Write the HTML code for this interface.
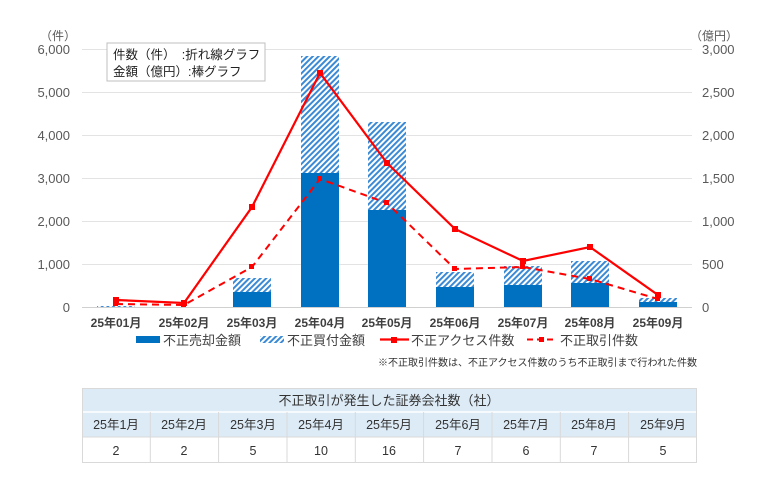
<!DOCTYPE html>
<html><head><meta charset="utf-8"><style>
body{margin:0;background:#fff;width:761px;height:498px;overflow:hidden;font-family:"Liberation Sans","Noto Sans CJK JP",sans-serif}
svg text{font-family:"Liberation Sans","Noto Sans CJK JP",sans-serif}
</style></head><body>
<svg width="761" height="498" xmlns="http://www.w3.org/2000/svg">
<defs><pattern id="h" width="4" height="4" patternUnits="userSpaceOnUse" patternTransform="rotate(45)"><rect width="4" height="4" fill="#fff"/><rect width="2" height="4" fill="#3a8ad6"/></pattern></defs>
<g stroke="#e3e3e3" stroke-width="1">
<line x1="82" x2="692" y1="49.5" y2="49.5"/><line x1="82" x2="692" y1="92.5" y2="92.5"/><line x1="82" x2="692" y1="135.5" y2="135.5"/><line x1="82" x2="692" y1="178.5" y2="178.5"/><line x1="82" x2="692" y1="221.5" y2="221.5"/><line x1="82" x2="692" y1="264.5" y2="264.5"/>
</g>
<line x1="82" x2="692" y1="307.5" y2="307.5" stroke="#d0d0d0"/>
<g font-size="13" fill="#595959" text-anchor="end">
<text x="70" y="54">6,000</text><text x="70" y="97">5,000</text><text x="70" y="140">4,000</text><text x="70" y="183">3,000</text><text x="70" y="226">2,000</text><text x="70" y="269">1,000</text><text x="70" y="312">0</text>
</g>
<g font-size="13" fill="#595959" text-anchor="start">
<text x="702" y="54">3,000</text><text x="702" y="97">2,500</text><text x="702" y="140">2,000</text><text x="702" y="183">1,500</text><text x="702" y="226">1,000</text><text x="702" y="269">500</text><text x="702" y="312">0</text>
</g>
<text x="40" y="40" font-size="12" fill="#595959">（件）</text>
<text x="690" y="40" font-size="12" fill="#595959">（億円）</text>
<rect x="107" y="43" width="158" height="38" fill="#fff" stroke="#bfbfbf"/>
<text x="113" y="59" font-size="12.5" fill="#222">件数（件）　:折れ線グラフ</text>
<text x="113" y="76" font-size="12.5" fill="#222">金額（億円）:棒グラフ</text>
<g>
<rect x="97" y="306" width="38" height="1" fill="url(#h)"/>
<rect x="233" y="278" width="38" height="14" fill="url(#h)"/><rect x="233" y="292" width="38" height="15" fill="#0070c0"/>
<rect x="301" y="56" width="38" height="117" fill="url(#h)"/><rect x="301" y="173" width="38" height="134" fill="#0070c0"/>
<rect x="368" y="122" width="38" height="88" fill="url(#h)"/><rect x="368" y="210" width="38" height="97" fill="#0070c0"/>
<rect x="436" y="272" width="38" height="15" fill="url(#h)"/><rect x="436" y="287" width="38" height="20" fill="#0070c0"/>
<rect x="504" y="266" width="38" height="19" fill="url(#h)"/><rect x="504" y="285" width="38" height="22" fill="#0070c0"/>
<rect x="571" y="261" width="38" height="22" fill="url(#h)"/><rect x="571" y="283" width="38" height="24" fill="#0070c0"/>
<rect x="639" y="298" width="38" height="4" fill="url(#h)"/><rect x="639" y="302" width="38" height="5" fill="#0070c0"/>
</g>
<polyline fill="none" stroke="#ff0000" stroke-width="2.2" points="116,300 184,303 252,207 320,73 387,163 455,229 523,261 590,247 658,295"/>
<polyline fill="none" stroke="#ff0000" stroke-width="2" stroke-dasharray="7,5" points="116,304 184,305 252,267 320,179 387,203 455,269 523,267 590,279 658,299"/>
<g fill="#ff0000">
<rect x="113" y="297" width="6" height="6"/><rect x="181" y="300" width="6" height="6"/><rect x="249" y="204" width="6" height="6"/><rect x="317" y="70" width="6" height="6"/><rect x="384" y="160" width="6" height="6"/><rect x="452" y="226" width="6" height="6"/><rect x="520" y="258" width="6" height="6"/><rect x="587" y="244" width="6" height="6"/><rect x="655" y="292" width="6" height="6"/>
<rect x="113" y="301" width="5" height="5"/><rect x="181" y="302" width="5" height="5"/><rect x="249" y="264" width="5" height="5"/><rect x="317" y="176" width="5" height="5"/><rect x="384" y="200" width="5" height="5"/><rect x="452" y="266" width="5" height="5"/><rect x="520" y="264" width="5" height="5"/><rect x="587" y="276" width="5" height="5"/><rect x="655" y="296" width="5" height="5"/>
</g>
<g font-size="12" fill="#404040" text-anchor="middle" font-weight="bold">
<text x="116" y="327">25年01月</text><text x="184" y="327">25年02月</text><text x="252" y="327">25年03月</text><text x="320" y="327">25年04月</text><text x="387" y="327">25年05月</text><text x="455" y="327">25年06月</text><text x="523" y="327">25年07月</text><text x="590" y="327">25年08月</text><text x="658" y="327">25年09月</text>
</g>
<rect x="136" y="336" width="24" height="7" fill="#0070c0"/>
<text x="163" y="345" font-size="13" fill="#404040">不正売却金額</text>
<rect x="260" y="336" width="24" height="7" fill="url(#h)"/>
<text x="287" y="345" font-size="13" fill="#404040">不正買付金額</text>
<line x1="380" x2="409" y1="339.5" y2="339.5" stroke="#ff0000" stroke-width="2.2"/><rect x="391" y="337" width="6" height="6" fill="#ff0000"/>
<text x="411" y="345" font-size="13" fill="#404040">不正アクセス件数</text>
<line x1="527" x2="556" y1="339.5" y2="339.5" stroke="#ff0000" stroke-width="2" stroke-dasharray="6,4"/><rect x="539" y="337" width="5" height="5" fill="#ff0000"/>
<text x="560" y="345" font-size="13" fill="#404040">不正取引件数</text>
<text x="697" y="366" font-size="10" fill="#333" text-anchor="end">※不正取引件数は、不正アクセス件数のうち不正取引まで行われた件数</text>
<rect x="82" y="388" width="615" height="24" fill="#ddebf7"/>
<rect x="82" y="412" width="615" height="25" fill="#ddebf7"/>
<g stroke="#ffffff" stroke-width="1.5"><line x1="82" x2="697" y1="412" y2="412"/></g>
<rect x="82.5" y="388.5" width="614" height="74" fill="none" stroke="#d9d9d9"/>
<line x1="82" x2="697" y1="437" y2="437" stroke="#d9d9d9"/>
<g stroke="#d9d9d9">
<line x1="150.3" x2="150.3" y1="412" y2="462"/><line x1="218.6" x2="218.6" y1="412" y2="462"/><line x1="287" x2="287" y1="412" y2="462"/><line x1="355.3" x2="355.3" y1="412" y2="462"/><line x1="423.6" x2="423.6" y1="412" y2="462"/><line x1="492" x2="492" y1="412" y2="462"/><line x1="560.3" x2="560.3" y1="412" y2="462"/><line x1="628.6" x2="628.6" y1="412" y2="462"/>
</g>
<text x="389" y="405" font-size="13" fill="#333" text-anchor="middle">不正取引が発生した証券会社数（社）</text>
<g font-size="12.5" fill="#333" text-anchor="middle">
<text x="116" y="429">25年1月</text><text x="184" y="429">25年2月</text><text x="253" y="429">25年3月</text><text x="321" y="429">25年4月</text><text x="389" y="429">25年5月</text><text x="458" y="429">25年6月</text><text x="526" y="429">25年7月</text><text x="594" y="429">25年8月</text><text x="663" y="429">25年9月</text>
<text x="116" y="455">2</text><text x="184" y="455">2</text><text x="253" y="455">5</text><text x="321" y="455">10</text><text x="389" y="455">16</text><text x="458" y="455">7</text><text x="526" y="455">6</text><text x="594" y="455">7</text><text x="663" y="455">5</text>
</g>
</svg>
</body></html>
